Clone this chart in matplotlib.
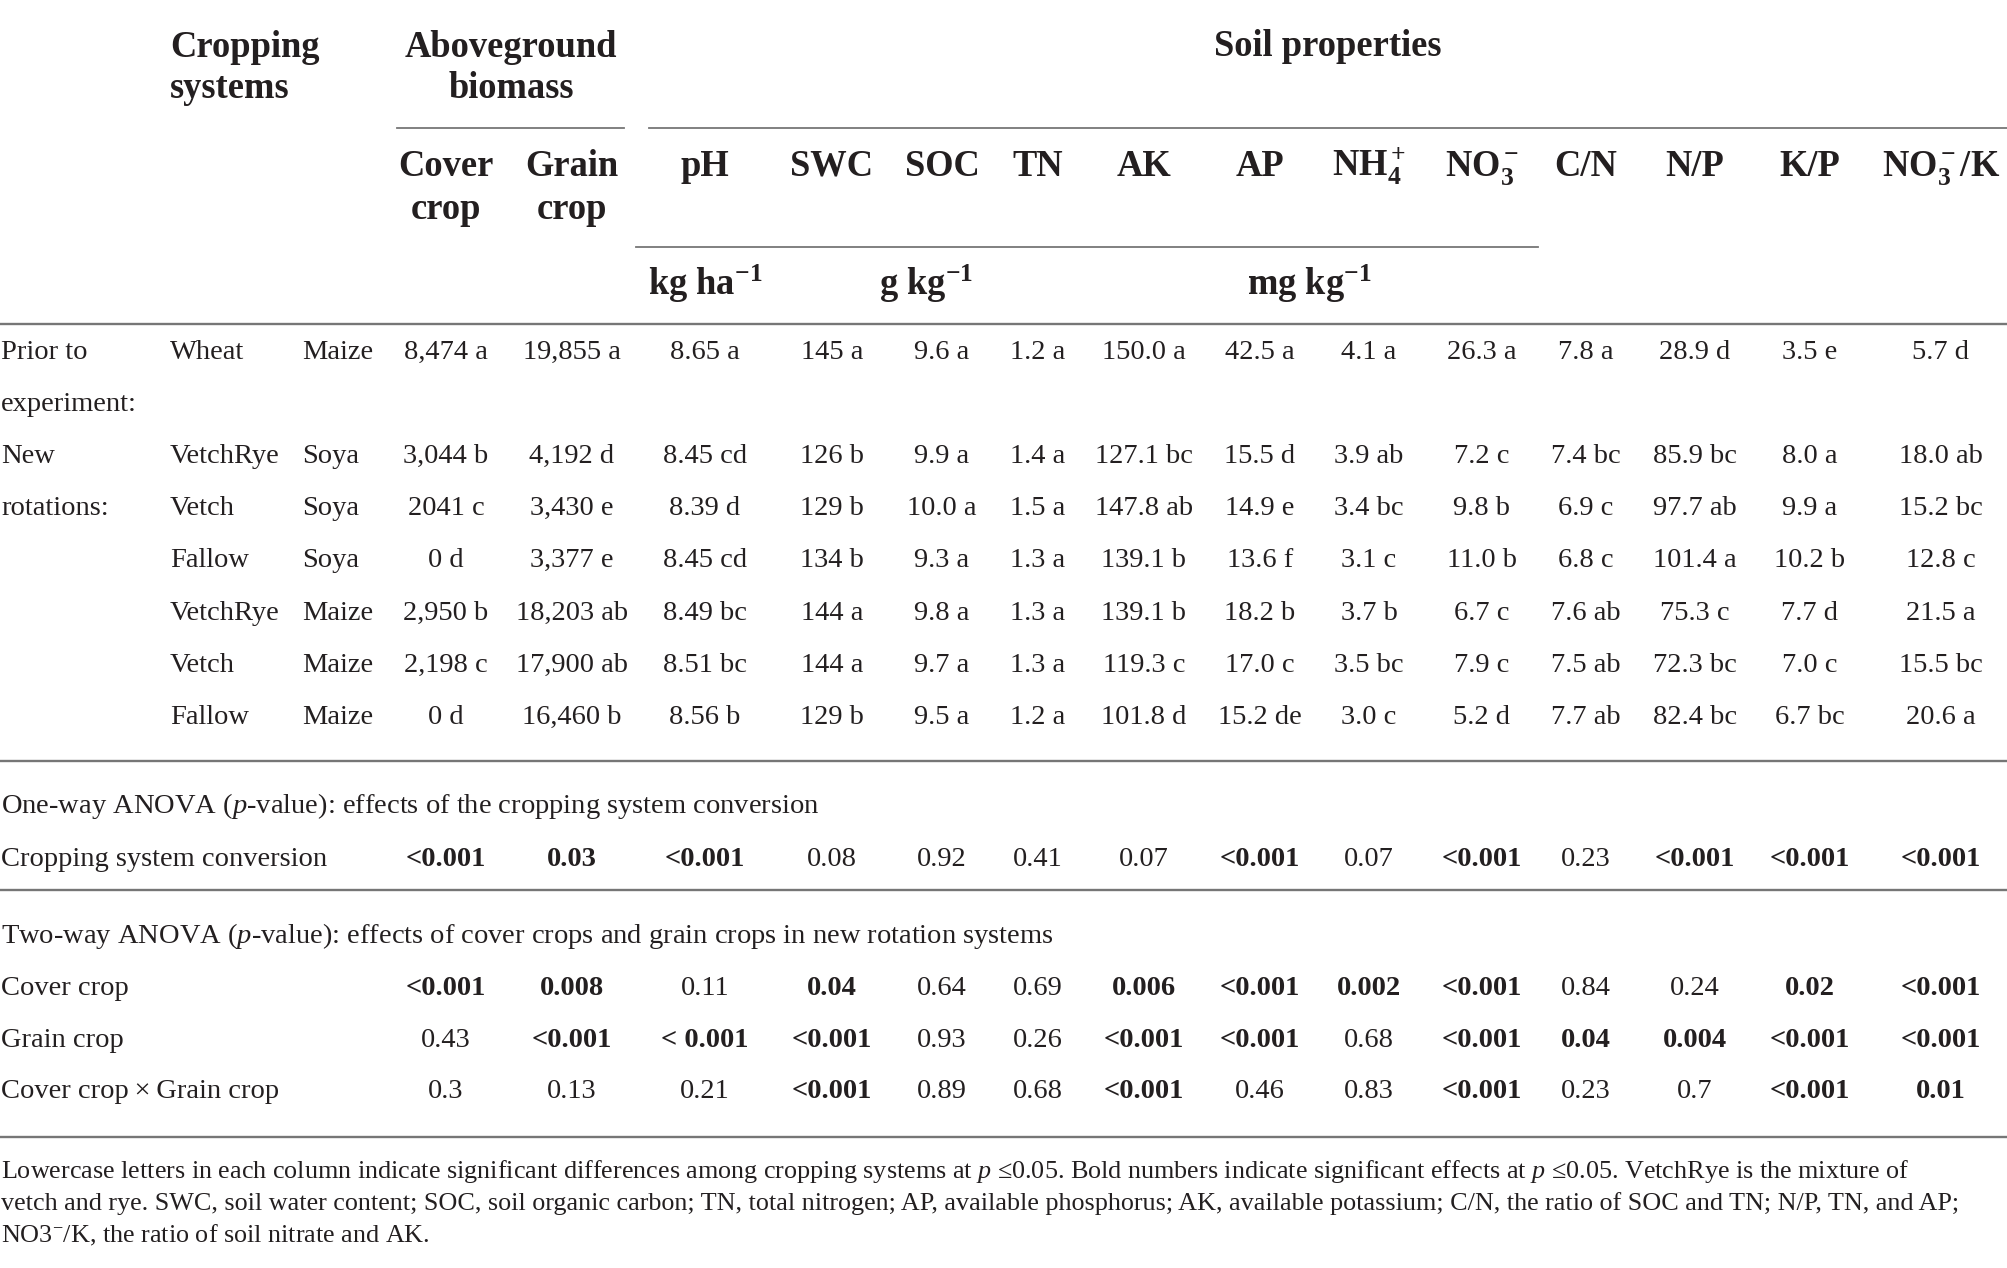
import matplotlib
matplotlib.use("Agg")
from matplotlib import pyplot as plt

plt.rcParams['font.family'] = ['Liberation Serif', 'DejaVu Serif']
plt.rcParams['mathtext.fontset'] = 'custom'
plt.rcParams['mathtext.rm'] = 'Liberation Serif'
plt.rcParams['mathtext.it'] = 'Liberation Serif:italic'
plt.rcParams['mathtext.bf'] = 'Liberation Serif:bold'
plt.rcParams['mathtext.default'] = 'regular'

# table content
col_headers = ['Cover\ncrop', 'Grain\ncrop', 'pH', 'SWC', 'SOC', 'TN', 'AK', 'AP',
               r'NH$_4^+$', r'NO$_3^-$', 'C/N', 'N/P', 'K/P', r'NO$_3^-$/K']
group_labels = ['Prior to', 'experiment:', 'New', 'rotations:']
cover_crops = ['Wheat', 'VetchRye', 'Vetch', 'Fallow', 'VetchRye', 'Vetch', 'Fallow']
grain_crops = ['Maize', 'Soya', 'Soya', 'Soya', 'Maize', 'Maize', 'Maize']

cover_biomass = ['8,474 a', '3,044 b', '2041 c', '0 d', '2,950 b', '2,198 c', '0 d']
grain_biomass = ['19,855 a', '4,192 d', '3,430 e', '3,377 e', '18,203 ab', '17,900 ab', '16,460 b']
ph = ['8.65 a', '8.45 cd', '8.39 d', '8.45 cd', '8.49 bc', '8.51 bc', '8.56 b']
swc = ['145 a', '126 b', '129 b', '134 b', '144 a', '144 a', '129 b']
soc = ['9.6 a', '9.9 a', '10.0 a', '9.3 a', '9.8 a', '9.7 a', '9.5 a']
tn = ['1.2 a', '1.4 a', '1.5 a', '1.3 a', '1.3 a', '1.3 a', '1.2 a']
ak = ['150.0 a', '127.1 bc', '147.8 ab', '139.1 b', '139.1 b', '119.3 c', '101.8 d']
ap = ['42.5 a', '15.5 d', '14.9 e', '13.6 f', '18.2 b', '17.0 c', '15.2 de']
nh4 = ['4.1 a', '3.9 ab', '3.4 bc', '3.1 c', '3.7 b', '3.5 bc', '3.0 c']
no3 = ['26.3 a', '7.2 c', '9.8 b', '11.0 b', '6.7 c', '7.9 c', '5.2 d']
cn = ['7.8 a', '7.4 bc', '6.9 c', '6.8 c', '7.6 ab', '7.5 ab', '7.7 ab']
np_ratio = ['28.9 d', '85.9 bc', '97.7 ab', '101.4 a', '75.3 c', '72.3 bc', '82.4 bc']
kp = ['3.5 e', '8.0 a', '9.9 a', '10.2 b', '7.7 d', '7.0 c', '6.7 bc']
no3k = ['5.7 d', '18.0 ab', '15.2 bc', '12.8 c', '21.5 a', '15.5 bc', '20.6 a']
columns = [cover_biomass, grain_biomass, ph, swc, soc, tn, ak, ap, nh4, no3, cn, np_ratio, kp, no3k]

anova_labels = ['Cropping system conversion', 'Cover crop', 'Grain crop', 'Cover crop\u2009×\u2009Grain crop']
anova_conversion = ['<0.001', '0.03', '<0.001', '0.08', '0.92', '0.41', '0.07', '<0.001', '0.07',
                    '<0.001', '0.23', '<0.001', '<0.001', '<0.001']
anova_cover = ['<0.001', '0.008', '0.11', '0.04', '0.64', '0.69', '0.006', '<0.001', '0.002',
               '<0.001', '0.84', '0.24', '0.02', '<0.001']
anova_grain = ['0.43', '<0.001', '< 0.001', '<0.001', '0.93', '0.26', '<0.001', '<0.001', '0.68',
               '<0.001', '0.04', '0.004', '<0.001', '<0.001']
anova_interaction = ['0.3', '0.13', '0.21', '<0.001', '0.89', '0.68', '<0.001', '0.46', '0.83',
                     '<0.001', '0.23', '0.7', '<0.001', '0.01']

footnote = [
    r'Lowercase letters in each column indicate significant differences among cropping systems at $\mathit{p}$ ≤0.05. '
    r'Bold numbers indicate significant effects at $\mathit{p}$ ≤0.05. VetchRye is the mixture of',
    'vetch and rye. SWC, soil water content; SOC, soil organic carbon; TN, total nitrogen; AP, available phosphorus; '
    'AK, available potassium; C/N, the ratio of SOC and TN; N/P, TN, and AP;',
    r'NO3$^{-}$/K, the ratio of soil nitrate and AK.',
]

# layout (pixels)
col_x = [446, 572, 705, 832, 942, 1038, 1144, 1260, 1369, 1482, 1586, 1695, 1810, 1941]
row_y = [359, 463, 515, 567, 620, 672, 724]
group_y = [359, 411, 463, 515]
anova_y = [866, 995, 1047, 1098]
fs = 20.5
hfs = 26.3
line_c = '#767676'

fig = plt.figure(figsize=(20.08, 12.68), dpi=100)
ax = fig.add_axes([0, 0, 1, 1])
ax.set_xlim(0, 2008)
ax.set_ylim(1268, 0)
ax.axis('off')

def txt(x, y, s, ha='center', size=fs, bold=False):
    ax.text(x, y, s, ha=ha, va='baseline', fontsize=size,
            fontweight='bold' if bold else 'normal', color='#231f20')

# header
txt(170, 57, 'Cropping', ha='left', size=hfs, bold=True)
txt(170, 98, 'systems', ha='left', size=hfs, bold=True)
txt(511, 57, 'Aboveground', size=hfs, bold=True)
txt(511, 98, 'biomass', size=hfs, bold=True)
txt(1328, 56, 'Soil properties', size=hfs, bold=True)
for x, h in zip(col_x, col_headers):
    parts = h.split('\n')
    for k, p in enumerate(parts):
        txt(x, 176 + 43 * k, p, size=hfs, bold=True)
txt(705, 295, r'kg ha$^{-1}$', size=hfs, bold=True)
txt(926, 295, r'g kg$^{-1}$', size=hfs, bold=True)
txt(1309, 295, r'mg kg$^{-1}$', size=hfs, bold=True)

ax.plot([397, 624], [128, 128], color=line_c, lw=1.3)
ax.plot([649, 2008], [128, 128], color=line_c, lw=1.3)
ax.plot([636, 1538], [247, 247], color=line_c, lw=1.3)
for y in [324, 761, 890, 1137]:
    ax.plot([0, 2008], [y, y], color=line_c, lw=1.7)

# body
for y, g in zip(group_y, group_labels):
    txt(1, y, g, ha='left')
for i, y in enumerate(row_y):
    txt(170, y, cover_crops[i], ha='left')
    txt(302, y, grain_crops[i], ha='left')
    for x, col in zip(col_x, columns):
        txt(x, y, col[i])

def significant(s):
    s = s.strip()
    return s.startswith('<') or float(s) <= 0.05

txt(1, 813, r'One-way ANOVA ($\mathit{p}$-value): effects of the cropping system conversion', ha='left')
txt(1, 943, r'Two-way ANOVA ($\mathit{p}$-value): effects of cover crops and grain crops in new rotation systems', ha='left')
for y, lab, vals in zip(anova_y, anova_labels,
                        [anova_conversion, anova_cover, anova_grain, anova_interaction]):
    txt(1, y, lab, ha='left')
    for x, v in zip(col_x, vals):
        txt(x, y, v, bold=significant(v))

for y, line in zip([1178, 1210, 1242], footnote):
    txt(1, y, line, ha='left', size=18.8)

fig.savefig('out.png', dpi=100)
